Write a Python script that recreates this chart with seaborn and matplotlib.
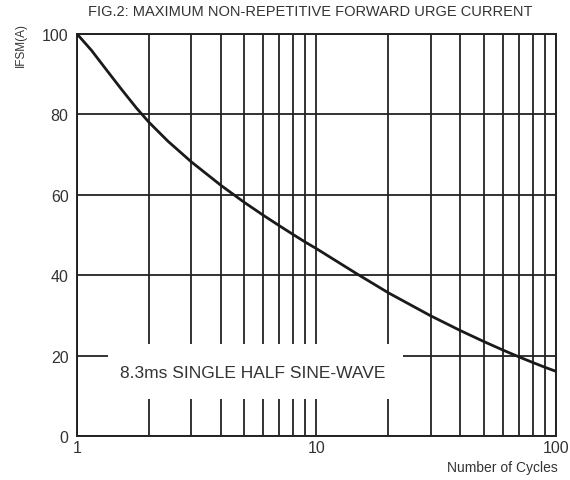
import matplotlib
matplotlib.use("Agg")
import matplotlib.pyplot as plt
import seaborn as sns
import pandas as pd
from matplotlib.patches import Rectangle
from matplotlib.ticker import FixedLocator, NullFormatter, FixedFormatter

# Surge current rating versus number of cycles
cycles = [1, 1.15, 1.33, 1.54, 1.77, 2, 2.4, 3, 4, 5, 6, 7, 8, 9, 10, 14.7,
          20, 30, 40, 50, 60, 70, 80, 90, 100]
ifsm = [100, 95.9, 91.0, 86.1, 81.6, 78.0, 73.3, 68.2, 62.3, 58.1, 54.9,
        52.3, 50.1, 48.2, 46.6, 40.4, 35.6, 29.9, 26.2, 23.5, 21.4, 19.7,
        18.3, 17.1, 16.1]

x_ticks = [1, 10, 100]
x_tick_labels = ["1", "10", "100"]
x_minor = [2, 3, 4, 5, 6, 7, 8, 9, 20, 30, 40, 50, 60, 70, 80, 90]
y_ticks = [0, 20, 40, 60, 80, 100]

df = pd.DataFrame({"cycles": cycles, "ifsm": ifsm})

sns.set_theme(style="white")
plt.rcParams["font.family"] = ["Liberation Sans", "DejaVu Sans"]

fig = plt.figure(figsize=(5.70, 4.81), dpi=100)
ax = fig.add_axes([0.135, 0.0915, 0.840, 0.836])

sns.lineplot(data=df, x="cycles", y="ifsm", ax=ax, color="#1a1a1a",
             linewidth=2.0, zorder=5)

ax.set_xscale("log")
ax.set_xlim(1, 100)
ax.set_ylim(0, 100)

ax.xaxis.set_major_locator(FixedLocator(x_ticks))
ax.xaxis.set_major_formatter(FixedFormatter(x_tick_labels))
ax.xaxis.set_minor_locator(FixedLocator(x_minor))
ax.xaxis.set_minor_formatter(NullFormatter())
ax.set_yticks(y_ticks)
ax.set_yticklabels([str(v) for v in y_ticks])

ax.tick_params(axis="both", which="both", length=0, labelsize=11.5,
               colors="#333333")
ax.tick_params(axis="x", pad=3)
ax.tick_params(axis="y", pad=6)

grid_kw = dict(color="#222222", linewidth=1.3)
ax.grid(True, axis="x", which="both", **grid_kw)
ax.grid(True, axis="y", which="major", **grid_kw)
ax.set_axisbelow(True)

for s in ax.spines.values():
    s.set_color("#222222")
    s.set_linewidth(1.4)

# White panel holding the waveform note
ax.add_patch(Rectangle((0.065, 0.092), 0.616, 0.137, transform=ax.transAxes,
                       facecolor="white", edgecolor="none", zorder=3))
ax.text(0.366, 0.159, "8.3ms SINGLE HALF SINE-WAVE", transform=ax.transAxes,
        ha="center", va="center", fontsize=12.5, color="#333333", zorder=4)

ax.set_xlabel("")
ax.set_ylabel("")
fig.text(0.544, 0.975, "FIG.2: MAXIMUM NON-REPETITIVE FORWARD URGE CURRENT",
         ha="center", va="center", fontsize=10.5, color="#333333")
fig.text(0.036, 0.906, "IFSM(A)", rotation=90, ha="center", va="center",
         fontsize=8.5, color="#333333")
fig.text(0.881, 0.027, "Number of Cycles", ha="center", va="center",
         fontsize=10, color="#333333")

fig.savefig("out.png", dpi=100)
